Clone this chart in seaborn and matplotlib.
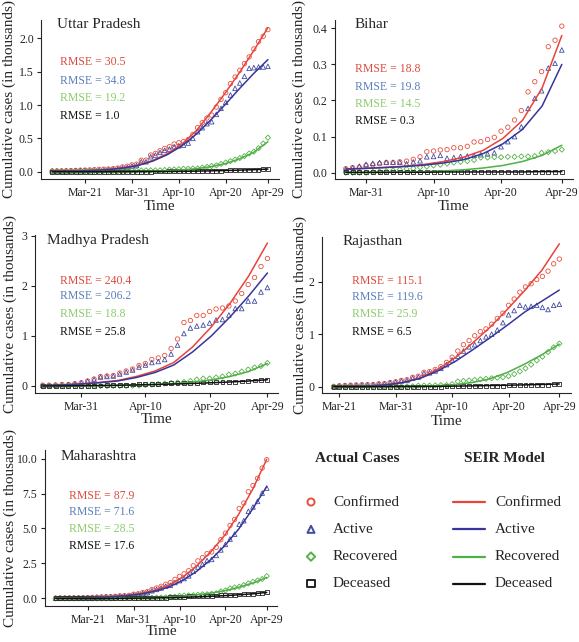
import pandas as pd
import matplotlib.pyplot as plt
import seaborn as sns

# ---------------- data (thousands of cases) ----------------
SERIES = ["Confirmed", "Active", "Recovered", "Deceased"]
END = "2020-04-29"

up_start = "2020-03-14"
up_confirmed = [
    0.011, 0.012, 0.013, 0.015, 0.017, 0.019, 0.023,
    0.024, 0.027, 0.031, 0.035, 0.038, 0.041, 0.046, 0.055, 0.072, 0.082, 0.103,
    0.113, 0.172, 0.174, 0.250, 0.275, 0.315, 0.350, 0.375, 0.415, 0.435,
    0.452, 0.483, 0.558, 0.660, 0.735, 0.805, 0.849, 0.969, 1.084, 1.184,
    1.320, 1.420, 1.520, 1.620, 1.720, 1.840, 1.950, 2.030, 2.130]
up_active = [
    0.011, 0.012, 0.011, 0.013, 0.015, 0.017, 0.020,
    0.020, 0.018, 0.022, 0.024, 0.027, 0.030, 0.035, 0.044, 0.058, 0.064, 0.085,
    0.094, 0.150, 0.150, 0.225, 0.250, 0.290, 0.320, 0.340, 0.375, 0.390,
    0.400, 0.430, 0.500, 0.600, 0.660, 0.720, 0.750, 0.860, 0.950, 1.040,
    1.150, 1.250, 1.330, 1.430, 1.550, 1.560, 1.570, 1.570, 1.580]
up_recovered = [
    0.000, 0.000, 0.001, 0.001, 0.001, 0.001, 0.001,
    0.004, 0.009, 0.009, 0.011, 0.011, 0.011, 0.011, 0.011, 0.014, 0.017, 0.017,
    0.017, 0.019, 0.021, 0.021, 0.021, 0.021, 0.026, 0.031, 0.035, 0.038,
    0.045, 0.045, 0.049, 0.050, 0.062, 0.073, 0.086, 0.095, 0.117, 0.137,
    0.159, 0.181, 0.205, 0.235, 0.274, 0.301, 0.354, 0.422, 0.510]
up_deceased = [
    0, 0, 0, 0, 0, 0, 0,
    0, 0, 0, 0, 0, 0, 0, 0.001, 0.001, 0.001, 0.002,
    0.002, 0.002, 0.002, 0.002, 0.003, 0.003, 0.003, 0.004, 0.004, 0.005,
    0.005, 0.005, 0.005, 0.008, 0.011, 0.013, 0.014, 0.014, 0.017, 0.018,
    0.020, 0.021, 0.024, 0.025, 0.027, 0.029, 0.031, 0.034, 0.039]
up_fit_confirmed = [0.005, 0.008, 0.013, 0.022, 0.036, 0.060, 0.100, 0.170,
                    0.270, 0.410, 0.610, 0.880, 1.170, 1.480, 1.810, 2.160]
up_fit_active = [0.005, 0.008, 0.012, 0.021, 0.034, 0.057, 0.095, 0.160,
                 0.255, 0.385, 0.560, 0.770, 1.000, 1.240, 1.470, 1.680]
up_fit_recovered = [0, 0, 0, 0, 0.002, 0.003, 0.006, 0.010,
                    0.017, 0.028, 0.045, 0.075, 0.120, 0.190, 0.290, 0.450]
up_fit_deceased = [0, 0, 0, 0, 0, 0.001, 0.002, 0.003,
                   0.004, 0.006, 0.009, 0.013, 0.018, 0.024, 0.031, 0.040]
up_rmse = [30.5, 34.8, 19.2, 1.0]

bihar_start = "2020-03-28"
bihar_confirmed = [
    0.011, 0.014, 0.015, 0.020,
    0.022, 0.025, 0.028, 0.028, 0.030, 0.032, 0.037, 0.044, 0.058, 0.060,
    0.063, 0.064, 0.069, 0.069, 0.073, 0.085, 0.086, 0.092, 0.098, 0.115,
    0.126, 0.146, 0.172, 0.224, 0.252, 0.280, 0.349, 0.367, 0.406]
bihar_active = [
    0.010, 0.014, 0.018, 0.023,
    0.026, 0.028, 0.029, 0.029, 0.029, 0.025, 0.030, 0.033, 0.044, 0.045,
    0.048, 0.040, 0.042, 0.045, 0.046, 0.048, 0.050, 0.052, 0.055, 0.072,
    0.086, 0.100, 0.127, 0.178, 0.206, 0.227, 0.290, 0.303, 0.340]
bihar_recovered = [
    0, 0, 0, 0,
    0.002, 0.003, 0.004, 0.006, 0.008, 0.010, 0.012, 0.015, 0.017, 0.020,
    0.022, 0.025, 0.028, 0.030, 0.032, 0.035, 0.042, 0.042, 0.043, 0.043,
    0.044, 0.044, 0.045, 0.045, 0.046, 0.055, 0.057, 0.060, 0.064]
bihar_deceased = [
    0.001, 0.001, 0.001, 0.001,
    0.001, 0.001, 0.001, 0.001, 0.001, 0.001, 0.001, 0.001, 0.001, 0.001,
    0.002, 0.002, 0.002, 0.002, 0.002, 0.002, 0.002, 0.002, 0.002, 0.002,
    0.002, 0.002, 0.002, 0.002, 0.002, 0.002, 0.002, 0.002, 0.002]
bihar_fit_confirmed = [0.010, 0.012, 0.015, 0.018, 0.023, 0.031,
                       0.043, 0.062, 0.095, 0.145, 0.235, 0.380]
bihar_fit_active = [0.010, 0.012, 0.014, 0.017, 0.021, 0.027,
                    0.036, 0.053, 0.080, 0.120, 0.185, 0.300]
bihar_fit_recovered = [0, 0, 0.001, 0.002, 0.003, 0.005,
                       0.008, 0.013, 0.020, 0.031, 0.048, 0.076]
bihar_fit_deceased = [0.001, 0.001, 0.001, 0.001, 0.001, 0.002,
                      0.002, 0.002, 0.002, 0.002, 0.003, 0.003]
bihar_rmse = [18.8, 19.8, 14.5, 0.3]

mp_start = "2020-03-25"
mp_confirmed = [
    0.015, 0.015, 0.020, 0.030, 0.030, 0.047, 0.066,
    0.100, 0.140, 0.190, 0.200, 0.210, 0.260, 0.300, 0.340, 0.410, 0.450,
    0.530, 0.560, 0.610, 0.750, 0.940, 1.270, 1.310, 1.410, 1.410, 1.490,
    1.540, 1.560, 1.600, 1.700, 1.850, 2.030, 2.170, 2.390, 2.550]
mp_active = [
    0.014, 0.014, 0.019, 0.029, 0.029, 0.045, 0.062,
    0.095, 0.130, 0.180, 0.190, 0.200, 0.240, 0.280, 0.320, 0.380, 0.420,
    0.470, 0.490, 0.530, 0.640, 0.820, 1.050, 1.160, 1.200, 1.220, 1.260,
    1.320, 1.330, 1.420, 1.550, 1.550, 1.700, 1.700, 1.880, 1.970]
mp_recovered = [
    0, 0, 0, 0, 0, 0, 0,
    0, 0, 0, 0, 0.002, 0.003, 0.004, 0.006, 0.010, 0.020,
    0.030, 0.040, 0.050, 0.060, 0.070, 0.080, 0.100, 0.130, 0.150, 0.150,
    0.170, 0.190, 0.230, 0.250, 0.290, 0.330, 0.370, 0.400, 0.460]
mp_deceased = [
    0.002, 0.002, 0.002, 0.002, 0.003, 0.004, 0.005,
    0.006, 0.008, 0.010, 0.013, 0.016, 0.020, 0.025, 0.030, 0.033, 0.036,
    0.040, 0.043, 0.050, 0.053, 0.055, 0.057, 0.063, 0.065, 0.070, 0.074,
    0.076, 0.078, 0.080, 0.083, 0.090, 0.100, 0.110, 0.113, 0.120]
mp_fit_confirmed = [0.010, 0.020, 0.040, 0.070, 0.110, 0.190, 0.300,
                    0.470, 0.780, 1.180, 1.650, 2.200, 2.860]
mp_fit_active = [0.010, 0.020, 0.040, 0.065, 0.100, 0.170, 0.270,
                 0.420, 0.680, 1.000, 1.380, 1.800, 2.260]
mp_fit_recovered = [0, 0, 0.002, 0.005, 0.010, 0.018, 0.030,
                    0.050, 0.080, 0.120, 0.190, 0.290, 0.450]
mp_fit_deceased = [0.001, 0.002, 0.005, 0.009, 0.015, 0.022, 0.030,
                   0.040, 0.050, 0.065, 0.080, 0.100, 0.125]
mp_rmse = [240.4, 206.2, 18.8, 25.8]

raj_start = "2020-03-20"
raj_confirmed = [
    0.004, 0.017, 0.023, 0.028, 0.032, 0.036, 0.038, 0.041, 0.054, 0.060, 0.079, 0.093,
    0.120, 0.133, 0.179, 0.200, 0.274, 0.288, 0.328, 0.381, 0.463, 0.561,
    0.680, 0.800, 0.880, 0.970, 1.050, 1.100, 1.190, 1.300, 1.400, 1.550,
    1.670, 1.800, 1.900, 1.960, 2.040, 2.100, 2.200, 2.340, 2.430]
raj_active = [
    0.004, 0.017, 0.022, 0.025, 0.029, 0.033, 0.035, 0.038, 0.050, 0.056, 0.075, 0.088,
    0.110, 0.120, 0.165, 0.185, 0.255, 0.265, 0.300, 0.350, 0.420, 0.510,
    0.580, 0.680, 0.760, 0.800, 0.880, 0.950, 1.000, 1.080, 1.220, 1.370,
    1.450, 1.550, 1.520, 1.530, 1.550, 1.510, 1.470, 1.550, 1.570]
raj_recovered = [
    0, 0, 0, 0, 0, 0, 0, 0.003, 0.003, 0.003, 0.003, 0.003,
    0.003, 0.005, 0.008, 0.020, 0.021, 0.021, 0.025, 0.030, 0.030, 0.050,
    0.100, 0.110, 0.120, 0.130, 0.140, 0.150, 0.160, 0.170, 0.180, 0.200,
    0.240, 0.290, 0.350, 0.420, 0.500, 0.570, 0.660, 0.750, 0.820]
raj_deceased = [
    0, 0, 0, 0, 0, 0, 0, 0, 0, 0, 0, 0,
    0.001, 0.001, 0.002, 0.002, 0.002, 0.003, 0.003, 0.003, 0.005, 0.007,
    0.011, 0.011, 0.011, 0.011, 0.014, 0.014, 0.017, 0.019, 0.021, 0.024,
    0.025, 0.027, 0.027, 0.027, 0.032, 0.033, 0.034, 0.046, 0.052]
raj_fit_confirmed = [0.002, 0.006, 0.013, 0.035, 0.085, 0.170, 0.330,
                     0.550, 0.830, 1.130, 1.470, 1.830, 2.220, 2.720]
raj_fit_active = [0.002, 0.006, 0.013, 0.034, 0.080, 0.160, 0.300,
                  0.480, 0.700, 0.930, 1.170, 1.420, 1.630, 1.840]
raj_fit_recovered = [0, 0, 0, 0, 0.002, 0.007, 0.020,
                     0.040, 0.080, 0.150, 0.270, 0.430, 0.610, 0.810]
raj_fit_deceased = [0, 0, 0, 0.001, 0.002, 0.004, 0.007,
                    0.011, 0.016, 0.022, 0.028, 0.035, 0.043, 0.052]
raj_rmse = [115.1, 119.6, 25.9, 6.5]

maha_start = "2020-03-14"
maha_confirmed = [
    0.019, 0.032, 0.033, 0.039, 0.042, 0.047, 0.052,
    0.064, 0.074, 0.089, 0.107, 0.122, 0.130, 0.153, 0.186, 0.203, 0.220, 0.302,
    0.335, 0.423, 0.490, 0.635, 0.748, 0.868, 1.018, 1.135, 1.364, 1.574,
    1.761, 1.982, 2.334, 2.684, 2.916, 3.202, 3.323, 3.651, 4.200, 4.666,
    5.218, 5.652, 6.427, 6.817, 7.628, 8.068, 8.590, 9.318, 9.915]
maha_active = [
    0.019, 0.032, 0.033, 0.038, 0.041, 0.046, 0.051,
    0.062, 0.072, 0.087, 0.103, 0.117, 0.124, 0.123, 0.155, 0.160, 0.171, 0.250,
    0.277, 0.361, 0.422, 0.553, 0.647, 0.750, 0.875, 0.946, 1.142, 1.276,
    1.426, 1.616, 1.945, 2.247, 2.434, 2.708, 2.791, 3.075, 3.470, 3.862,
    4.245, 4.594, 5.304, 5.559, 6.229, 6.538, 6.939, 7.530, 7.890]
maha_recovered = [
    0, 0, 0, 0, 0, 0, 0,
    0, 0, 0, 0.001, 0.001, 0.001, 0.025, 0.025, 0.035, 0.039, 0.039,
    0.042, 0.042, 0.042, 0.050, 0.056, 0.066, 0.079, 0.117, 0.125, 0.188,
    0.208, 0.217, 0.229, 0.259, 0.295, 0.300, 0.331, 0.365, 0.507, 0.572,
    0.722, 0.789, 0.840, 0.957, 1.076, 1.188, 1.282, 1.388, 1.593]
maha_deceased = [
    0, 0, 0, 0.001, 0.001, 0.001, 0.001,
    0.002, 0.002, 0.002, 0.003, 0.004, 0.005, 0.005, 0.006, 0.008, 0.010, 0.013,
    0.016, 0.020, 0.026, 0.032, 0.045, 0.052, 0.064, 0.072, 0.097, 0.110,
    0.127, 0.149, 0.160, 0.178, 0.187, 0.194, 0.201, 0.211, 0.223, 0.232,
    0.251, 0.269, 0.283, 0.301, 0.323, 0.342, 0.369, 0.400, 0.432]
maha_fit_confirmed = [0.020, 0.030, 0.050, 0.080, 0.130, 0.210, 0.340, 0.560,
                      0.920, 1.500, 2.300, 3.300, 4.500, 6.000, 7.800, 9.950]
maha_fit_active = [0.020, 0.030, 0.050, 0.080, 0.125, 0.200, 0.310, 0.500,
                   0.800, 1.270, 1.920, 2.750, 3.750, 4.950, 6.400, 8.000]
maha_fit_recovered = [0, 0, 0, 0.002, 0.008, 0.020, 0.035, 0.060,
                      0.100, 0.160, 0.250, 0.380, 0.550, 0.800, 1.100, 1.500]
maha_fit_deceased = [0, 0, 0.001, 0.003, 0.006, 0.012, 0.022, 0.036,
                     0.055, 0.080, 0.110, 0.150, 0.200, 0.260, 0.330, 0.430]
maha_rmse = [87.9, 71.6, 28.5, 17.6]

# ---------------- style ----------------
MARKERS = {"Confirmed": "o", "Active": "^", "Recovered": "D", "Deceased": "s"}
MARKER_SIZE = {"Confirmed": 10, "Active": 11, "Recovered": 7, "Deceased": 8}
POINT_COLORS = {"Confirmed": "#E8503F", "Active": "#414BA0",
                "Recovered": "#55B048", "Deceased": "#222222"}
LINE_COLORS = {"Confirmed": "#E8433A", "Active": "#38369A",
               "Recovered": "#4FB045", "Deceased": "#111111"}
TEXT_COLORS = {"Confirmed": "#DD4A3C", "Active": "#5B7EBD",
               "Recovered": "#8DCB6C", "Deceased": "#111111"}

W, H = 579, 642


def box(left, right, top, bottom):
    return [left / W, 1 - bottom / H, (right - left) / W, (bottom - top) / H]


panels = [
    dict(name="Uttar Pradesh", start=up_start, rmse=up_rmse,
         obs=[up_confirmed, up_active, up_recovered, up_deceased],
         fit=[up_fit_confirmed, up_fit_active, up_fit_recovered, up_fit_deceased],
         rect=box(41.4, 278.7, 20, 179), pad=(2.3, 2.3), ylim=(-0.109, 2.274),
         yticks=[0, 0.5, 1.0, 1.5, 2.0], yfmt="{:.1f}",
         xticks=["2020-03-21", "2020-03-31", "2020-04-10", "2020-04-20", "2020-04-29"],
         title_xy=(0.066, 0.97), rmse_x=0.078, rmse_y=[0.736, 0.618, 0.507, 0.396],
         ylab_x=-0.105, xlab_y=-0.13),
    dict(name="Bihar", start=bihar_start, rmse=bihar_rmse,
         obs=[bihar_confirmed, bihar_active, bihar_recovered, bihar_deceased],
         fit=[bihar_fit_confirmed, bihar_fit_active, bihar_fit_recovered, bihar_fit_deceased],
         rect=box(335, 572.6, 20, 179), pad=(1.6, 1.6), ylim=(-0.0175, 0.423),
         yticks=[0, 0.1, 0.2, 0.3, 0.4], yfmt="{:.1f}",
         xticks=["2020-03-31", "2020-04-10", "2020-04-20", "2020-04-29"],
         title_xy=(0.084, 0.97), rmse_x=0.084, rmse_y=[0.69, 0.58, 0.47, 0.367],
         ylab_x=-0.12, xlab_y=-0.13),
    dict(name="Madhya Pradesh", start=mp_start, rmse=mp_rmse,
         obs=[mp_confirmed, mp_active, mp_recovered, mp_deceased],
         fit=[mp_fit_confirmed, mp_fit_active, mp_fit_recovered, mp_fit_deceased],
         rect=box(35, 278, 235, 393), pad=(1.2, 1.65), ylim=(-0.14, 3.02),
         yticks=[0, 1, 2, 3], yfmt="{:.0f}",
         xticks=["2020-03-31", "2020-04-10", "2020-04-20", "2020-04-29"],
         title_xy=(0.048, 0.968), rmse_x=0.103, rmse_y=[0.711, 0.612, 0.5, 0.388],
         ylab_x=-0.076, xlab_y=-0.125),
    dict(name="Rajasthan", start=raj_start, rmse=raj_rmse,
         obs=[raj_confirmed, raj_active, raj_recovered, raj_deceased],
         fit=[raj_fit_confirmed, raj_fit_active, raj_fit_recovered, raj_fit_deceased],
         rect=box(322.4, 570.6, 237, 393), pad=(2.0, 2.0), ylim=(-0.12, 2.85),
         yticks=[0, 1, 2], yfmt="{:.0f}",
         xticks=["2020-03-21", "2020-03-31", "2020-04-10", "2020-04-20", "2020-04-29"],
         title_xy=(0.082, 0.968), rmse_x=0.118, rmse_y=[0.72, 0.617, 0.506, 0.393],
         ylab_x=-0.064, xlab_y=-0.138),
    dict(name="Maharashtra", start=maha_start, rmse=maha_rmse,
         obs=[maha_confirmed, maha_active, maha_recovered, maha_deceased],
         fit=[maha_fit_confirmed, maha_fit_active, maha_fit_recovered, maha_fit_deceased],
         rect=box(45, 277.3, 450, 606), pad=(2.3, 2.3), ylim=(-0.54, 10.61),
         yticks=[0, 2.5, 5.0, 7.5, 10.0], yfmt="{:.1f}",
         xticks=["2020-03-21", "2020-03-31", "2020-04-10", "2020-04-20", "2020-04-29"],
         title_xy=(0.069, 0.956), rmse_x=0.105, rmse_y=[0.707, 0.601, 0.496, 0.386],
         ylab_x=-0.121, xlab_y=-0.122),
]

sns.set_theme(style="ticks")
plt.rcParams["font.family"] = ["Liberation Serif", "DejaVu Serif"]
plt.rcParams["axes.linewidth"] = 0.8


def draw_panel(ax, p):
    days = pd.date_range(p["start"], END, freq="D")
    fit_days = pd.date_range(p["start"], END, periods=len(p["fit"][0]))
    for key, vals in zip(SERIES, p["obs"]):
        sns.scatterplot(x=days, y=vals, ax=ax, marker=MARKERS[key],
                        s=MARKER_SIZE[key], color=POINT_COLORS[key],
                        facecolor="none", edgecolor=POINT_COLORS[key],
                        linewidth=0.6, legend=False, zorder=2)
    for key, vals in zip(SERIES, p["fit"]):
        sns.lineplot(x=fit_days, y=vals, ax=ax, color=LINE_COLORS[key],
                     linewidth=1.1, legend=False, zorder=3)

    start, end = pd.Timestamp(p["start"]), pd.Timestamp(END)
    ax.set_xlim(start - pd.Timedelta(days=p["pad"][0]), end + pd.Timedelta(days=p["pad"][1]))
    ax.set_ylim(*p["ylim"])
    ticks = [pd.Timestamp(t) for t in p["xticks"]]
    ax.set_xticks(ticks)
    ax.set_xticklabels([t.strftime("%b-%d") for t in ticks])
    ax.set_yticks(p["yticks"])
    ax.set_yticklabels([p["yfmt"].format(v) for v in p["yticks"]])
    ax.tick_params(length=3, width=0.8, labelsize=8.5, colors="#222222", pad=2.5)
    sns.despine(ax=ax)

    ax.set_xlabel("Time", fontsize=11)
    ax.set_ylabel("Cumulative cases (in thousands)", fontsize=11)
    ax.yaxis.set_label_coords(p["ylab_x"], 0.5)
    ax.xaxis.set_label_coords(0.5, p["xlab_y"])

    ax.text(*p["title_xy"], p["name"], transform=ax.transAxes, fontsize=11,
            ha="left", va="center")
    for key, val, yy in zip(SERIES, p["rmse"], p["rmse_y"]):
        ax.text(p["rmse_x"], yy, f"RMSE = {val:.1f}", transform=ax.transAxes,
                fontsize=8.5, color=TEXT_COLORS[key], ha="left", va="center")


fig = plt.figure(figsize=(W / 100, H / 100), dpi=100)
for p in panels:
    draw_panel(fig.add_axes(p["rect"]), p)

# legend block (bottom right)
lg = fig.add_axes([0, 0, 1, 1])
lg.set_xlim(0, W)
lg.set_ylim(H, 0)
lg.axis("off")
lg.text(357, 458, "Actual Cases", ha="center", va="center", fontsize=11, fontweight="bold")
lg.text(504, 458, "SEIR Model", ha="center", va="center", fontsize=11, fontweight="bold")
for i, key in enumerate(SERIES):
    y = 502 + 27.3 * i
    lg.scatter([311], [y], marker=MARKERS[key], s=26 if key != "Recovered" else 18,
               facecolor="none", edgecolor=POINT_COLORS[key], linewidth=1.4)
    lg.text(333, y, key, va="center", ha="left", fontsize=11)
    lg.plot([453, 485], [y, y], color=LINE_COLORS[key], linewidth=1.6)
    lg.text(495, y, key, va="center", ha="left", fontsize=11)

fig.savefig("out.png", dpi=100)
plt.close(fig)
